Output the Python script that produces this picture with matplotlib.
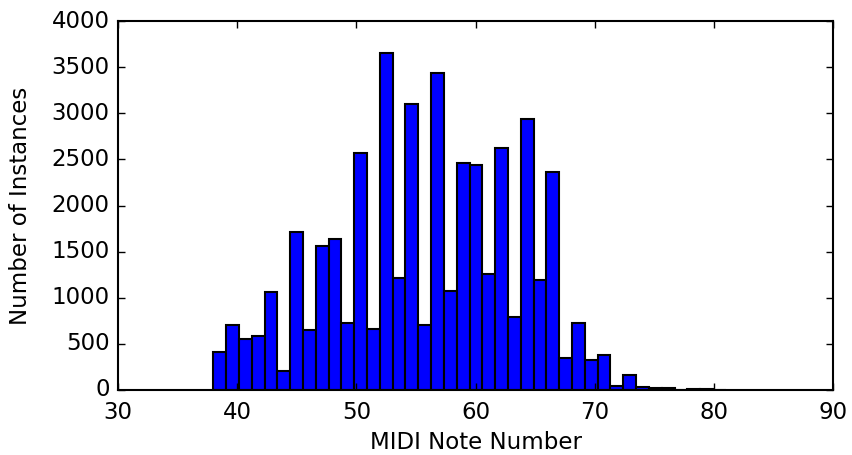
import numpy as np
import matplotlib
matplotlib.use("Agg")
import matplotlib.pyplot as plt

plt.style.use("classic")
plt.rcParams['font.family'] = ['DejaVu Sans']

# Histogram: 40 bins spanning MIDI notes 38..81
bin_start = 38
bin_stop = 81
counts = [415, 709, 554, 586, 1057, 203, 1708, 652, 1560, 1640,
          728, 2570, 662, 3649, 1209, 3098, 709, 3435, 1072, 2458,
          2444, 1252, 2621, 796, 2935, 1191, 2360, 344, 731, 326,
          380, 43, 163, 36, 24, 22, 3, 12, 8, 5]
xticks = [30, 40, 50, 60, 70, 80, 90]
yticks = [0, 500, 1000, 1500, 2000, 2500, 3000, 3500, 4000]

edges = np.linspace(bin_start, bin_stop, len(counts) + 1)
centers = (edges[:-1] + edges[1:]) / 2

fig = plt.figure(figsize=(8.52, 4.55), dpi=100, facecolor='white')
ax = fig.add_axes([0.1385, 0.1429, 0.8392, 0.8109])
ax.hist(centers, bins=edges, weights=counts, color='#0000ff',
        edgecolor='black', linewidth=1.5)
ax.set_xlim(30, 90)
ax.set_ylim(0, 4000)
ax.set_xticks(xticks)
ax.set_yticks(yticks)
ax.tick_params(labelsize=16.5, direction='in', length=5, width=1)
ax.tick_params(axis='x', pad=8)
ax.tick_params(axis='y', pad=6)
ax.set_xlabel('MIDI Note Number', fontsize=16.5)
ax.set_ylabel('Number of Instances', fontsize=16.5)
ax.xaxis.set_label_coords(0.5, -0.112)
ax.yaxis.set_label_coords(-0.12, 0.5)
for s in ax.spines.values():
    s.set_linewidth(1.5)
fig.savefig('out.png', dpi=100, facecolor='white')
